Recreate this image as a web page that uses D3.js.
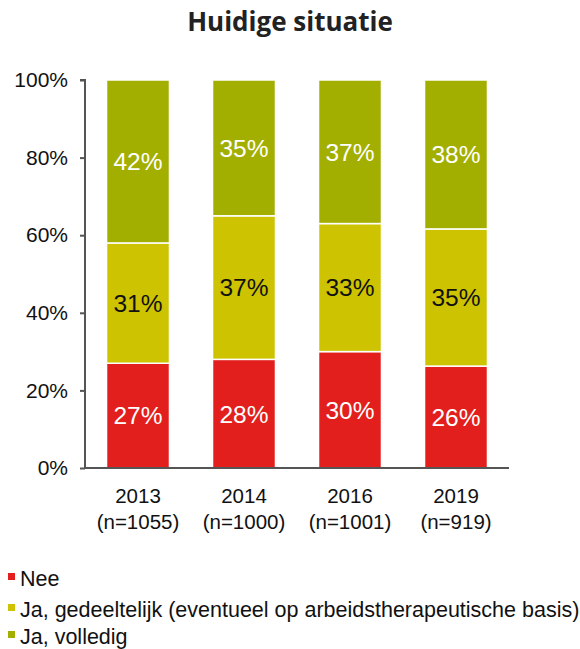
<!DOCTYPE html>
<html lang="nl">

<head>
    <meta charset="utf-8">
    <title>Huidige situatie</title>
    <script type="text/javascript" src="https://cdn.jsdelivr.net/npm/d3@7/dist/d3.min.js"></script>
    <style>
        body {
            margin: 0;
            background: #fff;
        }

        text {
            font-family: "Liberation Sans", Arial, sans-serif;
        }
    </style>
</head>

<body>
    <script type="text/javascript">
        // chart data
        var years = ["2013", "2014", "2016", "2019"];
        var sampleSizes = ["(n=1055)", "(n=1000)", "(n=1001)", "(n=919)"];
        var seriesNames = ["Nee", "Ja, gedeeltelijk (eventueel op arbeidstherapeutische basis)", "Ja, volledig"];
        var nee = [27, 28, 30, 26];
        var gedeeltelijk = [31, 37, 33, 35];
        var volledig = [42, 35, 37, 38];
        var yTicks = [0, 0.2, 0.4, 0.6, 0.8, 1];

        var colors = ["#e21f1c", "#cdc300", "#a3af00"];
        var labelColors = ["#fff", "#111", "#fff"];

        var w = 580;
        var h = 649;

        var svg = d3.select("body").append("svg")
            .attr("width", w).attr("height", h);

        // title
        svg.append("text")
            .attr("x", 290).attr("y", 31)
            .attr("text-anchor", "middle")
            .style("font-family", "'Open Sans', sans-serif")
            .style("font-weight", "bold")
            .style("font-size", "26px")
            .style("fill", "#222")
            .text("Huidige situatie");

        var rows = years.map(function (y, i) {
            return { year: y, n: sampleSizes[i], s0: nee[i], s1: gedeeltelijk[i], s2: volledig[i] };
        });
        var keys = ["s0", "s1", "s2"];

        var stack = d3.stack().keys(keys).offset(d3.stackOffsetExpand);
        var layers = stack(rows);

        var x = d3.scaleBand().domain(years).range([85, 509])
            .paddingInner(0.406).paddingOuter(0.203);
        var y = d3.scaleLinear().domain([0, 1]).range([468, 80]);

        // bars
        var groups = svg.selectAll("g.layer")
            .data(layers)
            .enter().append("g")
            .attr("class", "layer")
            .attr("fill", function (d, i) { return colors[i]; });

        groups.selectAll("rect")
            .data(function (d) { return d; })
            .enter().append("rect")
            .attr("x", function (d) { return x(d.data.year); })
            .attr("width", x.bandwidth())
            .attr("y", function (d) { return y(d[1]); })
            .attr("height", function (d) { return y(d[0]) - y(d[1]); })
            .attr("stroke", "#fff")
            .attr("stroke-width", 1.5);

        // value labels
        layers.forEach(function (layer, li) {
            svg.selectAll(null)
                .data(layer)
                .enter().append("text")
                .attr("x", function (d) { return x(d.data.year) + x.bandwidth() / 2; })
                .attr("y", function (d) { return (y(d[0]) + y(d[1])) / 2; })
                .attr("dy", "0.36em")
                .attr("text-anchor", "middle")
                .style("font-size", "24.5px")
                .style("fill", labelColors[li])
                .text(function (d) { return d.data[keys[li]] + "%"; });
        });

        // y axis
        var yAxis = svg.append("g")
            .attr("transform", "translate(85,0)")
            .call(d3.axisLeft(y).tickValues(yTicks).tickFormat(d3.format(".0%")).tickSize(5).tickPadding(12));
        yAxis.select(".domain").attr("stroke", "#555").attr("stroke-width", 2)
            .attr("d", "M-5,80H0V468");
        yAxis.selectAll(".tick line").attr("stroke", "#555").attr("stroke-width", 2);
        yAxis.selectAll(".tick text")
            .style("font-size", "21px").style("fill", "#111")
            .style("font-family", "'Liberation Sans', Arial, sans-serif");

        // x axis
        svg.append("line")
            .attr("x1", 84).attr("x2", 509)
            .attr("y1", 468).attr("y2", 468)
            .attr("stroke", "#555").attr("stroke-width", 2);

        var xl = svg.selectAll("text.xlab")
            .data(rows)
            .enter().append("text")
            .attr("class", "xlab")
            .attr("text-anchor", "middle")
            .style("font-size", "20.5px")
            .style("fill", "#111");
        xl.append("tspan")
            .attr("x", function (d) { return x(d.year) + x.bandwidth() / 2; })
            .attr("y", 503)
            .text(function (d) { return d.year; });
        xl.append("tspan")
            .attr("x", function (d) { return x(d.year) + x.bandwidth() / 2; })
            .attr("y", 529)
            .text(function (d) { return d.n; });

        // legend
        var legend = svg.selectAll("g.legend")
            .data(seriesNames)
            .enter().append("g")
            .attr("class", "legend")
            .attr("transform", function (d, i) { return "translate(8," + [578, 609, 636][i] + ")"; });
        legend.append("rect")
            .attr("x", 0).attr("y", -5).attr("width", 7).attr("height", 7)
            .attr("fill", function (d, i) { return colors[i]; });
        legend.append("text")
            .attr("x", 12).attr("y", 0).attr("dy", "0.35em")
            .style("font-size", "21.5px")
            .style("fill", "#111")
            .text(function (d) { return d; });
    </script>
</body>

</html>
